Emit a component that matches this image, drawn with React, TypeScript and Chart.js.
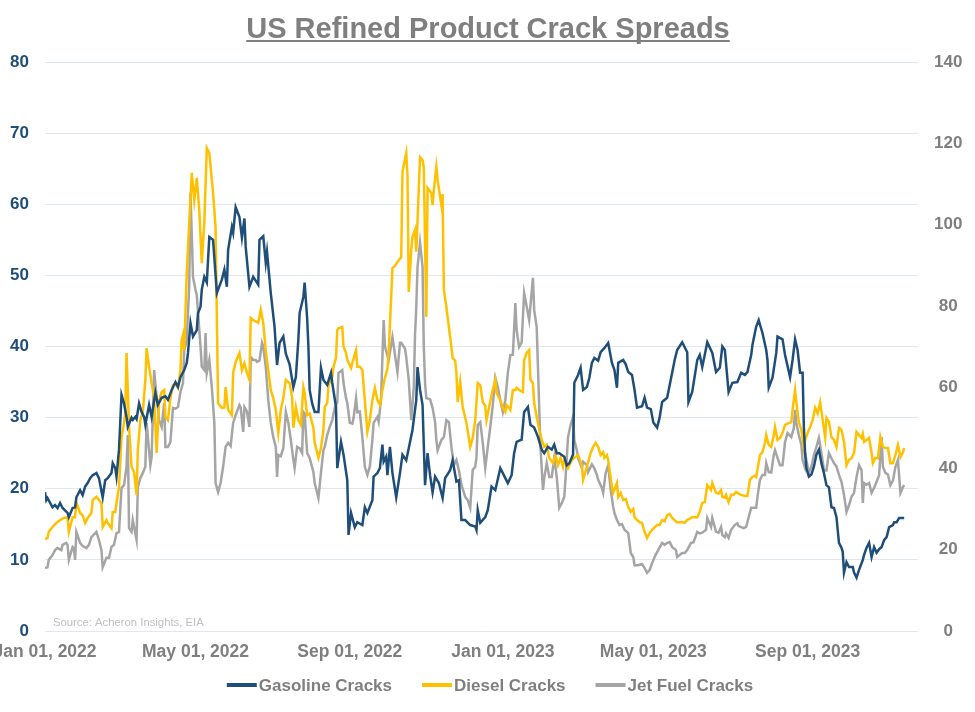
import React, { useEffect, useRef } from "react";
import { Chart, registerables } from "chart.js";

Chart.register(...registerables);

const FONT = '"Liberation Sans", Arial, Helvetica, sans-serif';

const titleText = "US Refined Product Crack Spreads";
const sourceText = "Source: Acheron Insights, EIA";

// x positions are days since Jan 01, 2022
const xTickDays = [0, 120, 243, 365, 485, 608];
const xTickLabels = ["Jan 01, 2022", "May 01, 2022", "Sep 01, 2022", "Jan 01, 2023", "May 01, 2023", "Sep 01, 2023"];
const xMaxDay = 696;

const seriesNames = ["Gasoline Cracks", "Diesel Cracks", "Jet Fuel Cracks"];
const seriesColors = ["#1f4e79", "#ffc000", "#a5a5a5"];

// Gasoline cracks (left axis, 0-80)
const gasolineCracks: [number, number][] = [
  [0,19.5],[1,18.4],[2,18.7],[6,17.4],[8,17.7],[10,17.3],[12,18.0],[14,17.3],[18,16.6],[19,16.0],[22,17.3],[24,17.4],[25,18.8],[28,19.8],[30,19.1],[32,20.3],[34,20.8],[36,21.5],[38,21.9],[41,22.2],[43,21.5],[46,18.8],[48,21.2],[50,21.5],[53,22.2],[54,23.6],[56,22.9],[57,21.7],[59,25.5],[61,33.2],[63,32.0],[65,30.1],[66,28.7],[69,30.0],[70,29.7],[72,30.1],[73,29.8],[75,32.0],[77,30.8],[79,30.1],[80,29.0],[83,31.8],[85,30.1],[88,33.5],[90,31.8],[93,32.8],[96,33.0],[98,32.5],[101,33.9],[104,35.0],[106,34.3],[108,35.7],[111,36.7],[113,37.7],[114,39.1],[116,43.3],[118,41.4],[121,42.3],[122,44.7],[124,45.6],[125,48.0],[127,49.8],[129,49.0],[131,55.4],[134,55.0],[137,47.5],[138,48.0],[141,49.4],[143,50.8],[145,48.4],[146,53.6],[149,56.8],[150,56.0],[152,59.6],[155,58.2],[157,55.3],[159,58.0],[160,54.0],[163,48.4],[166,49.8],[170,48.7],[171,55.0],[174,55.5],[176,51.8],[177,53.3],[180,47.5],[183,42.8],[185,37.4],[187,40.5],[190,41.4],[192,39.0],[195,37.5],[198,34.3],[200,35.7],[202,41.0],[203,44.7],[206,47.0],[207,49.0],[209,44.0],[210,40.0],[211,33.9],[213,32.0],[215,30.8],[218,30.8],[220,37.0],[222,35.3],[225,34.6],[228,36.3],[229,34.9],[232,31.5],[233,22.9],[236,26.6],[238,24.8],[241,21.2],[242,13.5],[244,16.6],[247,14.6],[249,15.3],[253,14.9],[255,17.4],[257,16.6],[261,18.4],[262,21.7],[265,22.2],[267,22.9],[269,26.2],[270,23.8],[272,24.5],[273,21.9],[275,25.9],[277,22.2],[280,18.8],[283,22.2],[285,24.8],[288,24.0],[290,25.7],[293,28.3],[296,32.5],[297,37.1],[299,33.9],[301,31.8],[303,20.5],[305,25.0],[307,21.9],[309,19.5],[311,21.7],[314,20.8],[317,18.7],[319,21.5],[323,22.6],[325,24.0],[328,21.0],[330,21.2],[332,15.6],[335,15.6],[339,14.9],[343,14.7],[344,14.2],[345,17.0],[347,15.2],[351,16.0],[353,17.0],[356,20.3],[359,19.8],[363,22.9],[365,22.2],[369,20.8],[372,21.9],[374,25.0],[376,26.6],[380,26.9],[382,30.8],[385,31.5],[387,29.0],[390,28.6],[393,27.3],[396,25.5],[398,25.0],[401,25.9],[404,25.5],[406,26.2],[408,25.0],[410,25.0],[414,24.5],[416,23.3],[418,23.6],[421,24.8],[422,34.9],[425,36.0],[427,37.0],[429,33.9],[432,34.3],[434,35.6],[436,37.7],[438,38.4],[441,38.0],[443,39.2],[446,39.8],[449,40.5],[452,37.7],[454,36.7],[456,34.2],[457,37.7],[461,38.1],[463,37.5],[465,36.4],[468,36.0],[470,33.9],[472,31.4],[476,31.6],[478,32.8],[480,31.4],[483,31.2],[485,29.3],[488,28.6],[490,30.0],[492,32.2],[496,32.8],[500,36.3],[502,38.1],[504,39.5],[508,40.6],[512,39.2],[513,32.2],[516,33.6],[520,38.1],[522,38.8],[524,37.1],[528,40.6],[532,39.1],[535,36.4],[538,37.0],[540,40.0],[542,39.5],[545,33.6],[548,34.9],[552,35.0],[555,36.3],[558,36.0],[560,36.4],[563,38.8],[564,40.2],[567,42.8],[569,43.7],[572,41.9],[575,39.5],[576,38.1],[577,34.2],[580,35.6],[583,39.1],[584,41.4],[588,41.0],[590,38.8],[594,35.7],[596,38.1],[598,41.0],[600,39.5],[602,36.3],[604,36.3],[605,28.7],[606,25.0],[607,22.9],[609,21.7],[611,22.0],[613,23.1],[615,24.8],[617,25.5],[619,23.6],[621,22.2],[623,20.5],[625,20.2],[627,17.4],[629,17.3],[631,16.0],[632,14.2],[633,12.4],[635,11.7],[636,11.1],[637,8.2],[639,9.7],[641,9.0],[644,9.0],[645,8.2],[647,7.5],[649,8.6],[652,10.0],[653,10.7],[655,11.7],[657,12.4],[659,10.4],[661,11.8],[663,11.0],[665,11.5],[667,11.8],[669,12.8],[671,13.2],[673,14.6],[676,14.9],[677,15.3],[679,15.3],[681,15.9],[684,15.9],[685,15.9]
];

// Diesel cracks (right axis, 0-140)
const dieselCracks: [number, number][] = [
  [0,22.6],[2,22.9],[3,24.4],[6,25.6],[9,26.6],[12,27.3],[15,27.8],[18,28.0],[19,24.4],[22,28.0],[24,28.0],[25,31.7],[28,29.0],[30,28.5],[32,26.6],[34,27.8],[37,29.0],[38,32.2],[41,33.0],[43,32.2],[45,31.5],[46,25.6],[49,27.3],[50,26.6],[53,25.3],[54,29.3],[56,29.3],[57,31.5],[59,35.4],[61,47.7],[63,51.2],[64,53.6],[65,68.4],[67,50.2],[69,40.4],[71,39.1],[73,33.5],[74,44.5],[76,51.9],[78,53.9],[80,61.8],[81,69.6],[83,65.0],[85,61.0],[87,57.3],[89,43.8],[91,56.8],[93,58.8],[95,59.3],[96,52.7],[98,51.9],[100,57.3],[102,60.5],[104,60.8],[106,59.8],[108,64.2],[109,71.6],[110,72.8],[111,69.0],[113,88.0],[117,112.7],[119,106.0],[121,111.5],[123,103.6],[125,90.5],[127,100.4],[129,118.8],[131,117.6],[134,107.8],[136,99.2],[138,56.0],[141,54.9],[143,55.0],[144,60.0],[146,54.4],[149,53.1],[150,63.5],[152,66.2],[155,68.4],[157,64.2],[159,65.9],[161,63.5],[163,61.8],[164,77.0],[166,76.5],[170,75.8],[172,79.0],[174,75.8],[176,69.0],[178,64.2],[180,59.3],[182,57.3],[184,54.4],[186,48.7],[188,54.4],[190,57.3],[192,61.8],[195,61.0],[197,57.6],[198,50.0],[200,55.1],[202,51.9],[204,50.7],[206,60.0],[207,58.6],[209,53.1],[211,53.5],[214,50.0],[215,46.3],[218,42.6],[220,45.0],[222,49.5],[223,55.1],[225,56.1],[226,60.5],[229,62.5],[230,65.0],[232,67.2],[233,74.0],[234,74.5],[237,74.8],[238,70.0],[240,68.4],[241,66.7],[244,64.7],[245,65.9],[248,69.1],[249,65.0],[251,65.0],[253,64.2],[255,56.8],[257,49.0],[259,51.9],[261,56.8],[263,59.8],[265,56.8],[267,55.6],[269,59.3],[271,62.3],[273,64.5],[274,68.4],[277,89.3],[279,89.8],[281,90.8],[284,92.0],[285,113.0],[288,117.6],[289,112.0],[290,83.4],[292,93.8],[293,97.0],[295,98.7],[296,93.3],[297,101.0],[299,116.6],[301,115.9],[302,114.0],[304,77.3],[305,109.0],[308,107.8],[309,104.8],[310,108.5],[312,114.2],[313,111.0],[316,104.8],[317,107.5],[318,83.9],[320,79.7],[322,74.8],[324,69.9],[325,67.2],[327,66.5],[328,63.5],[329,56.3],[331,61.3],[333,55.1],[336,51.2],[339,45.3],[341,47.5],[343,51.9],[345,61.0],[347,60.5],[349,56.3],[351,55.5],[352,51.9],[354,55.0],[356,58.1],[359,61.8],[360,58.6],[363,56.8],[365,54.9],[367,53.9],[368,55.6],[371,54.4],[373,59.3],[375,59.3],[376,59.8],[378,59.3],[381,58.8],[382,66.7],[384,68.4],[386,69.1],[387,61.8],[389,61.0],[390,56.1],[392,52.7],[394,49.5],[396,47.0],[398,45.3],[400,45.8],[402,42.6],[405,41.3],[407,43.3],[409,40.8],[411,42.6],[413,40.4],[414,42.1],[417,40.1],[420,42.1],[422,42.6],[425,43.3],[428,40.8],[429,37.2],[432,40.4],[435,43.8],[437,45.3],[439,46.3],[441,45.3],[443,43.3],[445,44.0],[446,42.6],[448,43.3],[449,42.1],[452,35.4],[453,34.0],[456,36.4],[457,33.0],[459,34.0],[461,32.2],[463,32.5],[465,30.5],[467,29.3],[469,30.0],[470,28.0],[472,27.3],[474,26.8],[476,26.6],[478,24.4],[480,22.9],[482,24.1],[484,24.9],[488,26.1],[490,26.1],[492,27.3],[494,27.0],[496,28.5],[498,28.8],[500,27.8],[504,26.7],[508,26.8],[510,26.6],[512,27.3],[516,28.0],[520,28.0],[522,29.3],[524,31.5],[526,31.7],[528,35.9],[531,34.7],[532,36.4],[535,34.0],[537,33.8],[539,34.7],[540,33.0],[542,32.8],[543,33.5],[545,31.7],[547,33.5],[549,33.5],[551,34.2],[553,33.8],[555,33.5],[558,33.2],[560,33.2],[562,37.2],[564,37.9],[566,38.2],[567,37.9],[570,43.3],[572,44.0],[574,46.3],[575,48.2],[577,45.8],[579,45.3],[581,48.2],[582,50.2],[584,47.0],[586,47.5],[588,48.7],[590,50.7],[592,51.0],[595,51.4],[596,54.4],[598,59.3],[599,56.3],[601,51.4],[603,49.5],[605,45.0],[606,47.0],[608,48.7],[610,50.2],[612,51.9],[614,54.9],[616,53.5],[618,56.3],[620,51.9],[622,47.7],[623,52.4],[625,51.5],[627,47.7],[629,47.0],[631,45.3],[633,50.0],[635,49.5],[637,46.5],[639,40.8],[641,42.1],[643,42.5],[645,43.8],[647,49.0],[649,48.2],[651,47.5],[652,48.5],[653,46.5],[655,47.0],[657,47.5],[659,43.8],[660,41.3],[662,42.6],[664,42.5],[666,47.7],[668,45.3],[670,45.0],[672,45.0],[674,41.3],[676,41.3],[678,43.3],[680,45.8],[682,42.8],[684,44.0],[685,45.0]
];

// Jet fuel cracks (right axis, 0-140)
const jetFuelCracks: [number, number][] = [
  [0,15.5],[2,15.7],[3,17.5],[6,18.7],[8,19.9],[10,20.4],[13,19.9],[14,21.2],[17,21.7],[18,21.2],[19,17.5],[22,20.7],[23,20.4],[24,17.5],[25,24.4],[28,21.7],[30,20.9],[33,20.4],[35,21.2],[37,23.1],[41,24.4],[43,22.4],[45,19.9],[46,15.7],[49,18.0],[51,18.0],[53,20.7],[55,21.2],[57,24.1],[59,24.4],[61,35.2],[63,35.9],[65,40.4],[66,48.2],[67,25.3],[69,24.4],[70,27.3],[73,22.4],[74,35.4],[76,37.6],[78,38.9],[80,40.4],[81,51.2],[84,40.8],[85,42.8],[87,64.2],[89,57.6],[91,51.9],[93,50.2],[95,56.1],[96,45.3],[98,45.3],[100,46.5],[102,54.9],[104,54.7],[106,55.1],[108,58.8],[110,61.0],[111,69.1],[113,71.6],[115,85.0],[116,107.8],[118,87.1],[120,83.9],[121,82.7],[124,69.9],[125,65.0],[127,64.2],[128,73.3],[129,63.5],[131,66.7],[133,60.0],[135,51.2],[136,36.4],[138,34.2],[140,36.4],[142,40.4],[144,45.3],[146,46.3],[148,45.5],[150,51.2],[152,53.1],[155,55.6],[156,55.0],[158,49.0],[159,55.1],[161,54.0],[163,50.2],[164,67.4],[166,66.7],[168,66.7],[169,66.2],[171,66.5],[173,70.9],[174,70.0],[176,65.0],[178,56.8],[180,51.2],[182,47.7],[184,45.3],[185,37.9],[186,43.3],[188,43.0],[190,45.0],[192,53.9],[194,51.2],[196,47.0],[198,42.1],[199,40.1],[201,45.3],[203,45.0],[205,43.8],[206,53.9],[207,53.5],[209,43.8],[211,42.6],[214,39.1],[215,36.4],[218,32.7],[220,38.9],[222,44.5],[223,45.3],[225,48.2],[227,50.2],[229,51.9],[231,54.9],[233,56.3],[234,63.5],[237,64.2],[238,61.0],[240,57.3],[241,56.1],[243,51.2],[245,51.0],[246,52.4],[248,57.3],[249,53.9],[251,54.0],[253,47.7],[255,40.4],[257,38.4],[259,40.5],[261,47.0],[262,51.2],[265,52.7],[266,51.5],[268,57.3],[269,67.4],[270,76.5],[271,70.0],[274,66.7],[277,72.3],[279,68.0],[281,63.7],[283,70.9],[284,70.9],[287,69.5],[288,67.4],[290,61.8],[292,51.9],[294,59.8],[295,72.8],[296,79.7],[297,89.6],[299,95.5],[301,89.6],[302,70.0],[303,61.0],[304,57.3],[307,57.0],[309,54.9],[311,51.4],[312,47.0],[313,44.5],[316,47.0],[318,47.7],[320,51.9],[322,51.4],[324,45.3],[326,40.8],[328,42.1],[330,39.5],[332,36.0],[335,33.0],[337,32.2],[339,30.3],[341,39.6],[343,40.4],[344,42.8],[345,50.7],[347,51.4],[349,46.3],[351,40.1],[353,45.3],[355,50.2],[357,55.6],[359,62.3],[361,60.0],[363,56.8],[365,53.9],[367,56.8],[369,63.5],[371,67.9],[373,68.0],[375,80.7],[376,74.0],[378,69.9],[380,71.0],[382,83.2],[385,78.2],[386,76.5],[389,86.9],[390,79.0],[392,74.8],[393,65.0],[394,55.1],[395,45.3],[397,34.7],[398,37.6],[400,41.3],[402,37.9],[404,37.9],[406,42.6],[408,37.9],[410,30.3],[412,31.5],[414,33.0],[415,37.6],[417,47.7],[419,50.7],[421,52.7],[422,47.0],[424,44.5],[425,42.6],[428,40.1],[429,41.6],[432,40.8],[433,39.1],[436,41.0],[438,40.0],[440,38.4],[441,37.2],[444,35.2],[445,34.0],[447,38.9],[449,40.8],[451,34.7],[453,30.5],[454,29.0],[456,27.3],[458,26.1],[460,26.3],[462,24.9],[465,24.1],[467,19.2],[469,18.2],[470,16.2],[473,16.2],[476,16.5],[478,15.5],[480,14.3],[482,15.0],[484,16.7],[486,18.2],[488,19.4],[492,21.7],[494,21.2],[496,21.7],[498,21.9],[500,20.7],[503,19.9],[504,18.2],[508,19.2],[510,19.2],[512,19.9],[515,21.7],[517,21.8],[520,24.4],[522,24.0],[524,24.2],[527,24.9],[528,27.8],[531,25.6],[532,27.8],[535,24.4],[537,24.2],[539,25.6],[540,23.6],[542,23.1],[543,24.0],[545,22.9],[547,24.9],[550,26.1],[552,26.5],[553,25.8],[557,25.3],[559,25.6],[561,28.0],[563,30.3],[567,30.3],[568,33.0],[570,37.2],[572,38.4],[574,38.4],[575,41.3],[577,39.1],[579,39.0],[581,43.3],[582,44.5],[584,42.6],[586,40.8],[588,40.8],[590,46.5],[592,48.7],[595,47.7],[597,49.9],[598,54.4],[599,51.2],[601,48.2],[603,45.8],[604,42.1],[606,40.1],[607,42.1],[609,38.9],[611,40.5],[613,43.3],[615,45.3],[617,47.5],[619,43.8],[621,39.6],[623,39.5],[625,43.8],[627,42.5],[629,41.3],[631,40.5],[633,38.4],[635,36.7],[637,33.5],[639,29.3],[641,31.0],[643,33.0],[645,34.0],[647,37.9],[649,40.8],[651,39.6],[652,31.5],[653,36.4],[655,36.0],[657,36.4],[659,34.0],[661,35.2],[663,36.7],[665,38.4],[667,47.7],[668,40.4],[670,38.9],[672,38.5],[674,35.9],[676,37.0],[678,40.4],[680,42.1],[682,34.0],[684,35.4],[685,35.9]
];

const overlayPlugin = {
  id: "overlay",
  afterDraw(chart: any) {
    const ctx: CanvasRenderingContext2D = chart.ctx;
    ctx.save();
    // Title with underline
    ctx.font = `bold 29px ${FONT}`;
    ctx.fillStyle = "#7f7f7f";
    ctx.textAlign = "center";
    ctx.textBaseline = "alphabetic";
    const tw = ctx.measureText(titleText).width;
    ctx.fillText(titleText, 488, 38);
    ctx.fillRect(488 - tw / 2, 40, tw, 2);

    // Source note
    ctx.font = `11.3px ${FONT}`;
    ctx.fillStyle = "#bfbfbf";
    ctx.textAlign = "left";
    ctx.fillText(sourceText, 53, 626);

    // Legend
    ctx.font = `bold 17px ${FONT}`;
    ctx.textBaseline = "middle";
    const sample = 30, gap = 2, spacing = 30;
    const items = chart.data.datasets.map((ds: any) => ({ label: ds.label, color: ds.borderColor, w: ctx.measureText(ds.label).width }));
    const total = items.reduce((s: number, it: any) => s + sample + gap + it.w, 0) + spacing * (items.length - 1);
    let x = 490 - total / 2;
    const y = 685;
    for (const it of items) {
      ctx.fillStyle = it.color;
      ctx.fillRect(x, y - 2, sample, 4);
      ctx.fillStyle = "#7f7f7f";
      ctx.fillText(it.label, x + sample + gap, y + 1);
      x += sample + gap + it.w + spacing;
    }
    ctx.restore();
  },
};

export default function App() {
  const ref = useRef<HTMLCanvasElement | null>(null);
  useEffect(() => {
    if (!ref.current) return;
    Chart.defaults.font.family = FONT;
    const series = [gasolineCracks, dieselCracks, jetFuelCracks];
    const axes = ["y", "y1", "y1"];
    const chart = new Chart(ref.current, {
      type: "line",
      data: {
        datasets: series.map((s, i) => ({
          label: seriesNames[i],
          data: s.map(([x, y]) => ({ x, y })),
          borderColor: seriesColors[i],
          backgroundColor: seriesColors[i],
          borderWidth: 2.5,
          pointRadius: 0,
          tension: 0,
          yAxisID: axes[i],
        })),
      },
      options: {
        animation: false,
        responsive: true,
        maintainAspectRatio: false,
        layout: { padding: { top: 62, bottom: 41, left: 0, right: 0 } },
        plugins: { legend: { display: false }, tooltip: { enabled: false }, title: { display: false } },
        events: [],
        scales: {
          x: {
            type: "linear",
            min: 0,
            max: xMaxDay,
            grid: { display: false, drawTicks: false },
            border: { display: false },
            afterBuildTicks: (axis: any) => {
              axis.ticks = xTickDays.map((v) => ({ value: v }));
            },
            afterFit: (axis: any) => {
              axis.height = 40;
              axis.paddingLeft = 0;
              axis.paddingRight = 0;
            },
            ticks: {
              autoSkip: false,
              maxRotation: 0,
              minRotation: 0,
              padding: 11,
              color: "#7f7f7f",
              font: { size: 17.5, weight: "bold", family: FONT },
              callback: (value: any) => {
                const i = xTickDays.indexOf(Number(value));
                return i >= 0 ? xTickLabels[i] : "";
              },
            },
          },
          y: {
            position: "left",
            min: 0,
            max: 80,
            grid: { color: "#dfe7f1", drawTicks: false, lineWidth: 1 },
            border: { display: false },
            afterFit: (axis: any) => { axis.width = 45; },
            ticks: { stepSize: 10, padding: 16, color: "#1f4e79", font: { size: 17, weight: "bold", family: FONT } },
          },
          y1: {
            position: "right",
            min: 0,
            max: 140,
            grid: { display: false, drawTicks: false },
            border: { display: false },
            afterFit: (axis: any) => { axis.width = 975 - 918; },
            ticks: { stepSize: 20, padding: 16, crossAlign: "center", color: "#7f7f7f", font: { size: 17, weight: "bold", family: FONT } },
          },
        },
      } as any,
      plugins: [overlayPlugin],
    });
    return () => chart.destroy();
  }, []);
  return (
    <div style={{ position: "absolute", left: 0, top: 0, width: 975, height: 712 }}>
      <canvas ref={ref} />
    </div>
  );
}
